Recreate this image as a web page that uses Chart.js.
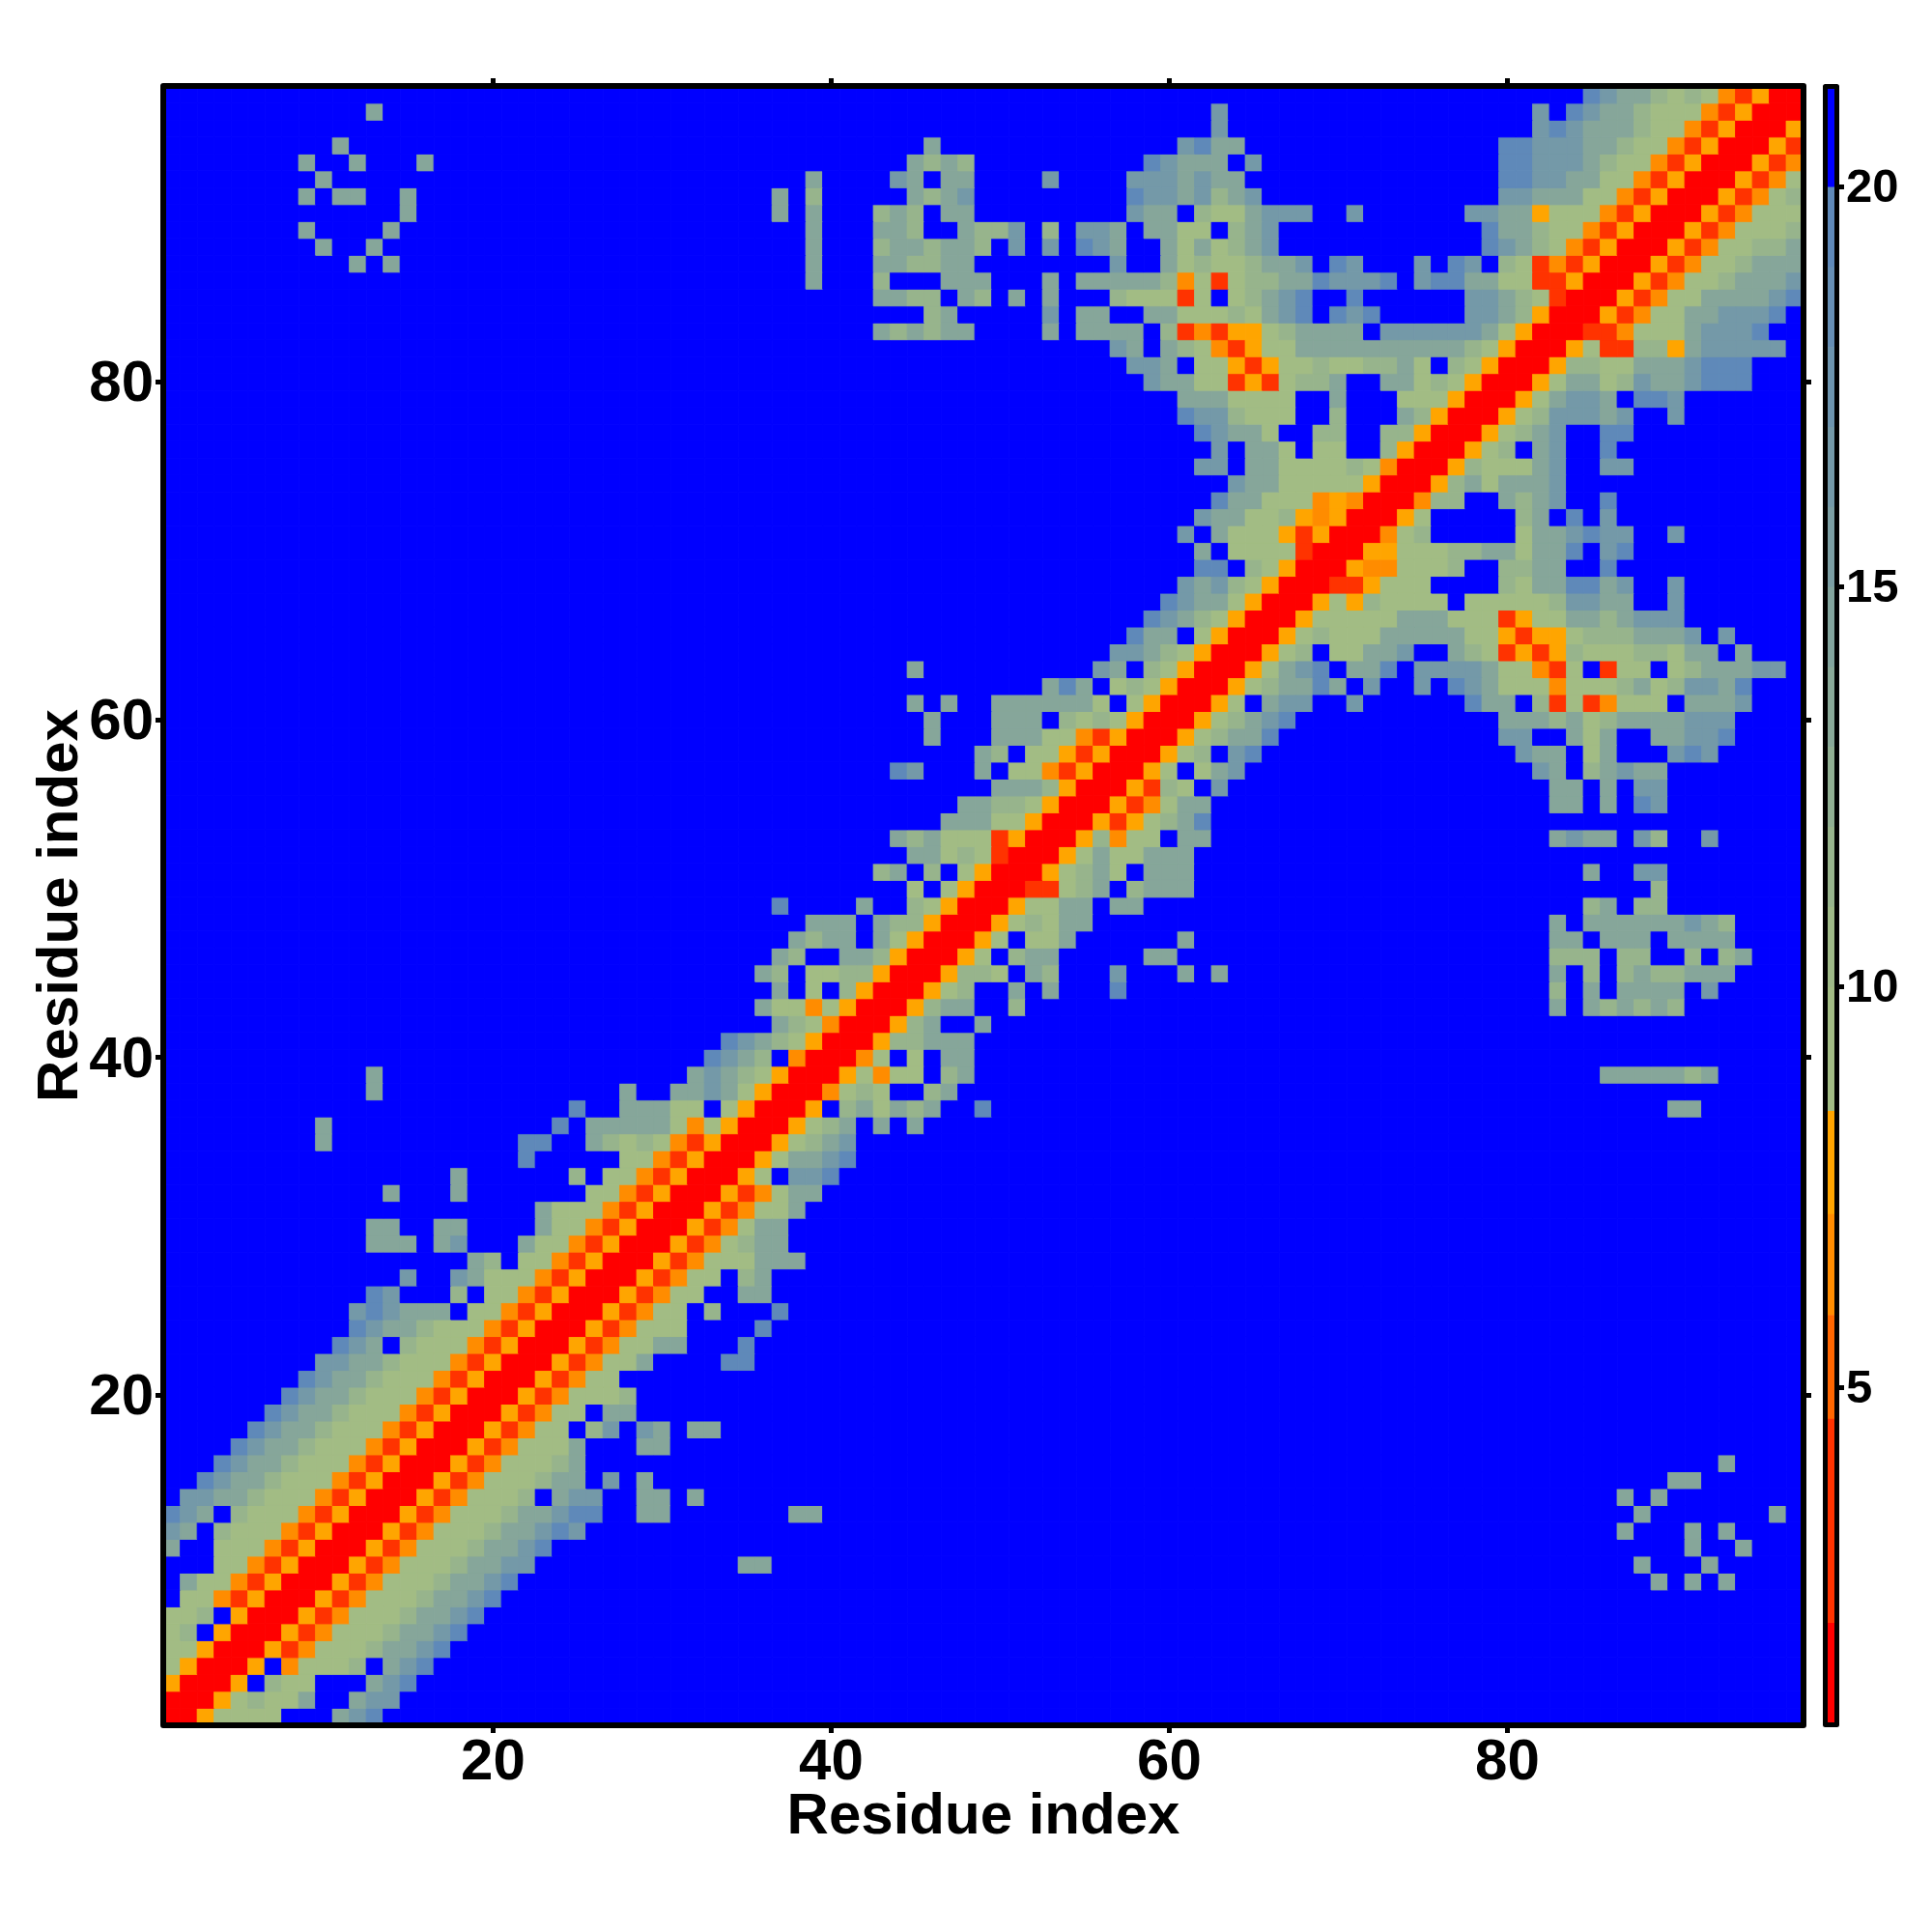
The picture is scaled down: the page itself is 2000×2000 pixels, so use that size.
<!DOCTYPE html>
<html>
<head>
<meta charset="utf-8">
<title>Residue distance map</title>
<script src="https://cdn.jsdelivr.net/npm/chart.js@4"></script>
<style>
  html, body { margin: 0; padding: 0; background: #fff; }
  #wrap { position: relative; width: 2000px; height: 2000px; }
  canvas { position: absolute; top: 0; }
  #map { left: 0; }
  #key { left: 1880px; }
</style>
</head>
<body>
<div id="wrap">
  <canvas id="map" width="2000" height="2000"></canvas>
  <canvas id="key" width="120" height="2000"></canvas>
</div>
<script>
// distance read for each letter of the rows below ('.' = above the 20 cut off)
const levelLetters = ['R', 'D', 'N', 'O', 'a', 'b', 'c', 'd', 'e', '.'];
const levelValues = [1.5, 4.5, 6.5, 7.8, 9.5, 11.5, 14, 16.5, 19.5, 21];

const axisTicks = [20, 40, 60, 80];
const axisMin = 0.66;
const axisMax = 97.35;
const keyTicks = [5, 10, 15, 20];
const keyEdges = [0.81, 2.05, 4.6, 5.9, 7.16, 8.45, 10, 11, 12, 13, 14, 15, 16, 17, 18, 19, 20, 21.23];

// upper triangle of the symmetric map, one entry per residue (1..97), "column:letters"
const upperRows = [
  '1:R',
  '1:RR',
  '1:ORR',
  '1:aORR',
  '1:aaORR',
  '1:ab.ORR',
  '1:aab.ORR',
  '2:aaNDORR',
  '2:caaNDORR',
  '4:aaNDORR',
  // 11
  '1:c 4:aaaNDORR',
  '1:dc.baaaNDORR',
  '1:edc.baaaNDORR',
  '2:ddccbaaaNDORR',
  '3:edccbaaaNDORR',
  '4:edccbaaaNDORR',
  '5:edccbaaaNDORR',
  '6:edccbaaaNDORR',
  '7:edccbaaaNDORR',
  '8:edccbaaaNDORR',
  // 21
  '9:edccbaaaNDORR',
  '10:ddccbaaaNDORR',
  '11:edc.baaaNDORR',
  '12:edccbaaaNDORR',
  '12:dedccc.aaNDORR',
  '13:ed 18:b.aaNDORR',
  '15:d 18:dcaaaNDORR',
  '19:cb.aaNDORR',
  '13:ccc 17:cd 22:caaNDORR',
  '13:cc 17:cc 23:caaNDORR',
  // 31
  '23:caaaNDORR',
  '14:c 18:c 26:aaNDORR',
  '18:c 25:b.aaNDORR',
  '22:e 28:aaNDORR',
  '10:c 22:ee 26:cbabaNDORR',
  '10:c 24:e.cccccaNaORR',
  '25:e 28:cccaa.aORR',
  '13:c 28:c 31:ccdcaORR',
  '13:c 32:cdcbaORR',
  '33:edcb.NRR',
  // 41
  '34:edcbaORR',
  '37:cbaNRR',
  '36:caaNaORR',
  '37:c.a.bORR',
  '36:cb.aabbORR',
  '37:cb..ccbORR',
  '38:cbcc 43:caORR',
  '39:ccc 43:cbbORR',
  '37:e 42:c 45:baORR',
  '45:a.aORR',
  // 51
  '43:bc.b.aORR',
  '45:ccabaDRR',
  '44:cbcaaaDORR',
  '47:cccaaORR',
  '48:ccbbaORR',
  '50:cccbORR',
  '44:ed 49:c.aaNDORR',
  '49:cb.aaODORR',
  '46:c 50:cccaaNDORR',
  '46:c 50:ccc.babaORR',
  // 61
  '45:c.c 50:cccccca.aORR',
  '53:cec.abaORR',
  '45:c 56:dc.baORR',
  '57:ddcbaORR',
  '58:ecc.aORR',
  '59:edcbaORR',
  '60:edccaORR',
  '61:dcdbaORR',
  '62:ee.baORR',
  '62:c.aaaaDRR',
  // 71
  '61:d.caaaODORR',
  '62:dccaabONORR',
  '63:eccaaaNONRR',
  '64:dccaaaaaORR',
  '62:dd.ccaaaabaNRR',
  '63:d.cca.aa..bORR',
  '62:edcca..bb..bbORR',
  '61:eddbaaa..b...cbORR',
  '61:cccaaaa..c...aaaORR',
  '59:dccaaDODabbc..ccabaORR',
  // 81
  '58:ddc.aaODOaabaabbca.baORR',
  '57:dc.cbaNDOaaccccccccccbaORR',
  '43:cbcbcc 53:c 55:cccc.bDNDOOabcccc.ddddddcaORR',
  '46:bc 53:d 55:cc..ccaaabacde.ede.....ddcbORR',
  '43:ccbb.cb.c 53:c 57:baaaDa.abcde..e 78:ddcbaDRR',
  '39:c 43:b 47:ccc 53:c 55:cccccbNaDabbcceddde.deeccaaDDORR',
  '12:c 14:c 39:c 43:ccbbcc 57:d..cabaabccd.ed...d.ed.baDNDORR',
  '10:c 13:c 39:c 43:bccbccb.d 53:d 55:edc..cacabcd 79:edcbaNDORR',
  '9:c 14:c 39:c 43:ccb..cbbd 53:b 55:ddc.ccaa.bcd 79:eccbaaNDORR',
  '15:c 37:c 39:c 43:bcb.cc 58:dcc.baacddd 71:d 78:ddccOaaaNDORR',
  // 91
  '9:c 11:cc 15:c 37:c 39:b 45:cbcd 58:eddcdbcd 80:ddcccaaNDORR',
  '10:c 39:c 44:dc.cc 53:d 58:dddcdcc 80:eeddccaaNDORR',
  '9:c 12:c 16:c 45:cbcb 59:edccc.d 80:eedddcbaaNDORR',
  '11:c 46:c 61:decc 80:eedddccbaaNDORR',
  '63:d 82:dedcccbaaNDORR',
  '13:c 63:d 82:d 84:edccbaaaNDORR',
  '85:edccbabaNDORR'
];

const FONT = 'Liberation Sans';
const SIZE = upperRows.length;

// mirror the triangle into the full matrix
const matrix = [];
for (let r = 0; r <= SIZE; r++) matrix.push(new Array(SIZE + 1).fill(levelValues[levelValues.length - 1]));
upperRows.forEach((text, index) => {
  const row = index + 1;
  text.split(' ').forEach(part => {
    const [start, letters] = part.split(':');
    [...letters].forEach((letter, k) => {
      const col = Number(start) + k;
      const value = levelValues[levelLetters.indexOf(letter)];
      matrix[row][col] = value;
      matrix[col][row] = value;
    });
  });
});

const cells = [];
for (let r = 1; r <= SIZE; r++) {
  for (let c = 1; c <= SIZE; c++) cells.push({ x: c, y: r, v: matrix[r][c] });
}

// colour key of the figure
function colorFor(v) {
  if (v >= 20) return '#0000ff';
  if (v < 2.05) return '#ff0000';
  if (v < 4.6) return '#ff3300';
  if (v < 5.9) return '#ff6600';
  if (v < 7.16) return '#ff8c00';
  if (v < 8.45) return '#ffa500';
  const t = Math.max(0, (v - 10) / 10);
  const mix = (a, b) => Math.round(a + (b - a) * t);
  return `rgb(${mix(0xa2, 0x5b)},${mix(0xbc, 0x86)},${mix(0x84, 0xbc)})`;
}

// black frame around the plot area
const framePlugin = {
  id: 'frame',
  afterDatasetsDraw(chart, args, opts) {
    const a = chart.chartArea;
    const w = opts.lineWidth;
    const ctx = chart.ctx;
    ctx.save();
    ctx.strokeStyle = '#000';
    ctx.lineWidth = w;
    ctx.lineJoin = 'round';
    ctx.strokeRect(a.left - w / 2, a.top - w / 2, a.width + w, a.height + w);
    ctx.restore();
  }
};

function fixedAxis(size, horizontal) {
  return scale => {
    if (horizontal) scale.height = size;
    else scale.width = size;
  };
}

function setTicks(values) {
  return scale => {
    scale.ticks = values.map(v => ({ value: v }));
  };
}

const tickGrid = { drawOnChartArea: false, tickLength: 11, tickWidth: 5, tickColor: '#000' };
const axisFont = { family: FONT, size: 60, weight: 'bold' };

function titleOptions(padding) {
  return { display: true, text: 'Residue index', color: '#000', font: axisFont, padding: padding };
}

new Chart(document.getElementById('map').getContext('2d'), {
  type: 'scatter',
  data: {
    datasets: [{
      data: cells,
      clip: 0,
      pointStyle: 'rect',
      pointRadius: ctx => ctx.chart.scales.x.width / (axisMax - axisMin) * Math.SQRT1_2,
      pointBackgroundColor: ctx => colorFor(ctx.raw.v),
      pointBorderColor: ctx => colorFor(ctx.raw.v),
      pointBorderWidth: 1
    }]
  },
  options: {
    responsive: false,
    animation: false,
    devicePixelRatio: 1,
    events: [],
    plugins: { legend: { display: false }, tooltip: { enabled: false }, frame: { lineWidth: 6 } },
    scales: {
      x: {
        type: 'linear', position: 'bottom', min: axisMin, max: axisMax,
        grid: tickGrid, border: { display: false },
        afterBuildTicks: setTicks(axisTicks),
        afterFit: fixedAxis(217, true),
        ticks: { autoSkip: false, maxRotation: 0, color: '#000', font: axisFont, padding: -5 },
        title: titleOptions({ top: 0, bottom: 83 })
      },
      y: {
        type: 'linear', position: 'left', min: axisMin, max: axisMax,
        grid: tickGrid, border: { display: false },
        afterBuildTicks: setTicks(axisTicks),
        afterFit: fixedAxis(172, false),
        ticks: { autoSkip: false, color: '#000', font: axisFont, padding: 2, labelOffset: 3 },
        title: titleOptions({ top: 27, bottom: 0 })
      },
      xTop: {
        type: 'linear', position: 'top', min: axisMin, max: axisMax,
        grid: tickGrid, border: { display: false },
        afterBuildTicks: setTicks(axisTicks),
        afterFit: fixedAxis(92, true),
        ticks: { display: false }
      },
      yRight: {
        type: 'linear', position: 'right', min: axisMin, max: axisMax,
        grid: tickGrid, border: { display: false },
        afterBuildTicks: setTicks(axisTicks),
        afterFit: fixedAxis(136, false),
        ticks: { display: false }
      }
    }
  },
  plugins: [framePlugin]
});

// colour key: one floating bar per colour step
const keyDatasets = [];
for (let i = 0; i < keyEdges.length - 1; i++) {
  const low = keyEdges[i];
  const high = keyEdges[i + 1];
  keyDatasets.push({
    data: [[low, high]],
    backgroundColor: colorFor((low + high) / 2),
    borderWidth: 0,
    barPercentage: 1,
    categoryPercentage: 1,
    grouped: false
  });
}

new Chart(document.getElementById('key').getContext('2d'), {
  type: 'bar',
  data: { labels: [''], datasets: keyDatasets },
  options: {
    responsive: false,
    animation: false,
    devicePixelRatio: 1,
    events: [],
    layout: { padding: { left: 12, top: 92, bottom: 217 } },
    plugins: { legend: { display: false }, tooltip: { enabled: false }, frame: { lineWidth: 5 } },
    scales: {
      x: { display: false },
      y: {
        position: 'right', min: keyEdges[0], max: keyEdges[keyEdges.length - 1],
        grid: { drawOnChartArea: false, tickLength: 10, tickWidth: 5, tickColor: '#000' },
        border: { display: false },
        afterBuildTicks: setTicks(keyTicks),
        afterFit: fixedAxis(101, false),
        ticks: { autoSkip: false, color: '#000', font: { family: FONT, size: 49, weight: 'bold' }, padding: 2, labelOffset: 2 }
      }
    }
  },
  plugins: [framePlugin]
});
</script>
</body>
</html>
